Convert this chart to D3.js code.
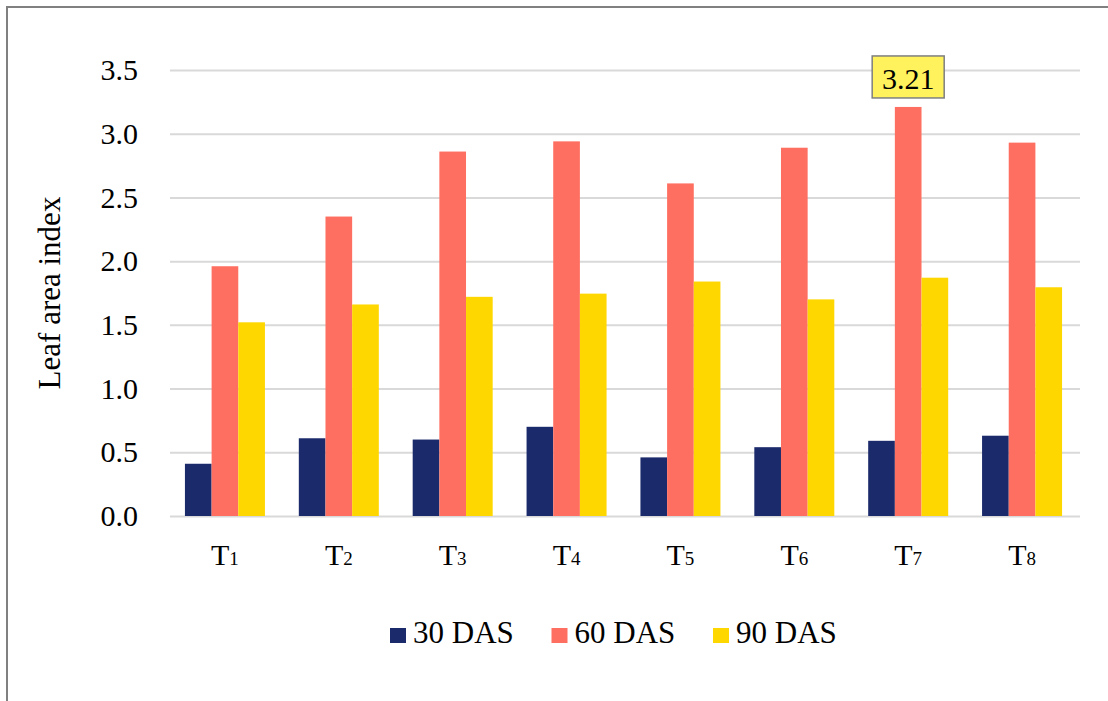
<!DOCTYPE html>
<html>
<head>
<meta charset="utf-8">
<script src="https://cdn.jsdelivr.net/npm/d3@7"></script>
<style>
  body { margin: 0; background: #fff; }
  svg { display: block; }
  svg text { font-family: "Liberation Serif", serif; fill: #000; }
</style>
</head>
<body>
<script>
// data
const categories = ['1', '2', '3', '4', '5', '6', '7', '8'];   // T subscript numbers
const series = ['30 DAS', '60 DAS', '90 DAS'];
const das30 = [0.41, 0.61, 0.60, 0.70, 0.46, 0.54, 0.59, 0.63];
const das60 = [1.96, 2.35, 2.86, 2.94, 2.61, 2.89, 3.21, 2.93];
const das90 = [1.52, 1.66, 1.72, 1.745, 1.84, 1.70, 1.87, 1.795];
const yTicks = [0, 0.5, 1.0, 1.5, 2.0, 2.5, 3.0, 3.5];
const colors = ['#1B2A6B', '#FF6F61', '#FFD700'];
const highlight = { category: '7', series: '60 DAS', text: '3.21' };

const width = 1108, height = 701;
const plotLeft = 168, plotRight = 1079, plotTop = 70, plotBottom = 516;
const serif = '"Liberation Serif", serif';

const values = [das30, das60, das90];
const rows = categories.map((c, i) => ({
  cat: c,
  vals: series.map((s, j) => ({ key: s, value: values[j][i], idx: j }))
}));

const svg = d3.select('body').append('svg')
  .attr('width', width)
  .attr('height', height)
  .attr('font-family', serif);

// outer frame (only left and top edge visible)
svg.append('rect')
  .attr('x', 7).attr('y', 7)
  .attr('width', 1300).attr('height', 900)
  .attr('fill', 'none')
  .attr('stroke', '#808080')
  .attr('stroke-width', 2);

const x0 = d3.scaleBand()
  .domain(categories)
  .range([plotLeft, plotRight])
  .paddingInner(0.2975)
  .paddingOuter(0.14875);

const x1 = d3.scaleBand()
  .domain(series)
  .range([0, x0.bandwidth()]);

const y = d3.scaleLinear()
  .domain([0, 3.5])
  .range([plotBottom, plotTop]);

// y axis + gridlines
const yAxis = d3.axisLeft(y)
  .tickValues(yTicks)
  .tickFormat(d3.format('.1f'))
  .tickSizeInner(-(plotRight - plotLeft + 1))
  .tickSizeOuter(0)
  .tickPadding(30);

const gy = svg.append('g')
  .attr('transform', 'translate(' + plotLeft + ',0)')
  .call(yAxis)
  .attr('font-family', serif);
gy.select('.domain').remove();
gy.selectAll('.tick line')
  .attr('x1', 2)
  .attr('stroke', '#D9D9D9')
  .attr('stroke-width', 2);
gy.selectAll('.tick text')
  .attr('font-family', serif)
  .style('font-size', '30px');

// bars
svg.append('g').selectAll('g')
  .data(rows)
  .enter()
  .append('g')
  .attr('transform', d => 'translate(' + x0(d.cat) + ',0)')
  .selectAll('rect')
  .data(d => d.vals)
  .enter()
  .append('rect')
  .attr('x', d => x1(d.key))
  .attr('y', d => y(d.value))
  .attr('width', x1.bandwidth())
  .attr('height', d => y(0) - y(d.value))
  .attr('fill', d => colors[d.idx]);

// x axis
const xAxis = d3.axisBottom(x0).tickSize(0).tickPadding(28);
const gx = svg.append('g')
  .attr('transform', 'translate(0,' + plotBottom + ')')
  .call(xAxis)
  .attr('font-family', serif);
gx.select('.domain').remove();
gx.selectAll('.tick text')
  .attr('font-family', serif)
  .style('font-size', '30px')
  .text(null)
  .each(function(d) {
    const t = d3.select(this);
    t.append('tspan').text('T');
    t.append('tspan').style('font-size', '19px').text(d);
  });

// y axis title
svg.append('text')
  .attr('transform', 'translate(60,' + ((plotTop + plotBottom) / 2) + ') rotate(-90)')
  .attr('text-anchor', 'middle')
  .style('font-size', '31px')
  .text('Leaf area index');

// data label callout
const hx = x0(highlight.category) + x1(highlight.series) + x1.bandwidth() / 2;
const hv = das60[categories.indexOf(highlight.category)];
const lab = svg.append('g')
  .attr('transform', 'translate(' + hx + ',' + (y(hv) - 9) + ')');
lab.append('rect')
  .attr('x', -36).attr('y', -42)
  .attr('width', 72).attr('height', 42)
  .attr('fill', '#FFF25C')
  .attr('stroke', '#7F7F7F')
  .attr('stroke-width', 1.5);
lab.append('text')
  .attr('y', -9)
  .attr('text-anchor', 'middle')
  .style('font-size', '30px')
  .text(highlight.text);

// legend
const legend = svg.append('g')
  .attr('transform', 'translate(390,628)');
const item = legend.selectAll('g')
  .data(series)
  .enter()
  .append('g')
  .attr('transform', (d, i) => 'translate(' + (i * 161.5) + ',0)');
item.append('rect')
  .attr('width', 16)
  .attr('height', 15)
  .attr('fill', (d, i) => colors[i]);
item.append('text')
  .attr('x', 23)
  .attr('y', 15)
  .style('font-size', '31px')
  .text(d => d);
</script>
</body>
</html>
